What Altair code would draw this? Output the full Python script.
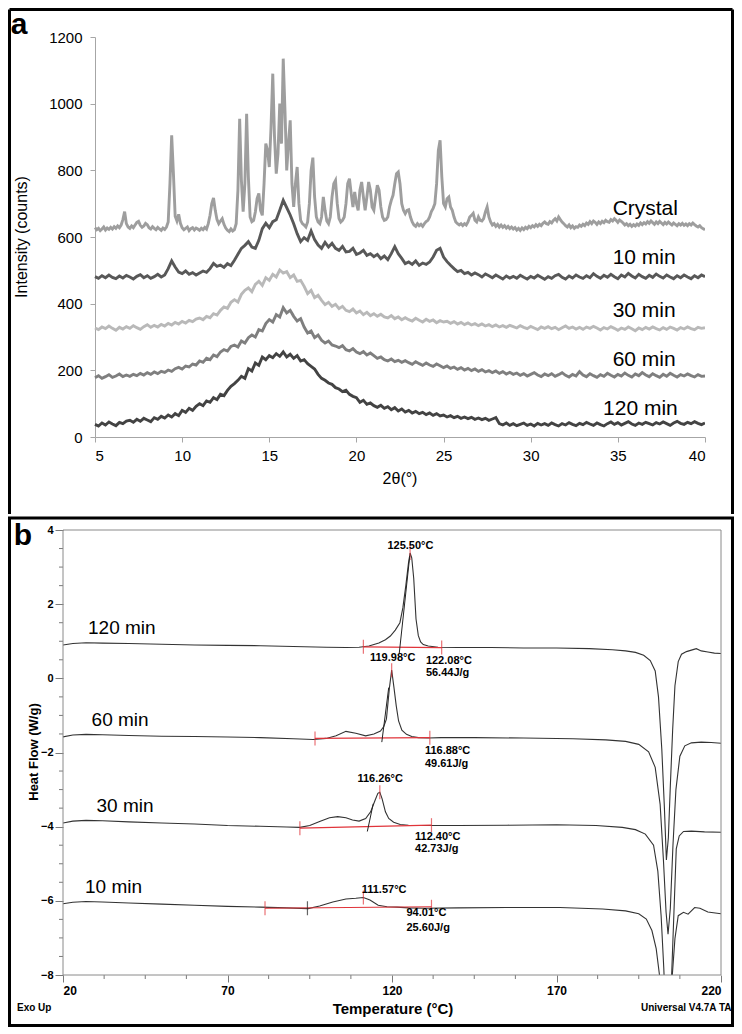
import altair as alt
import numpy as np
import pandas as pd

# ======================= Panel a : XRD patterns =======================
THETA_START = 5.0
CRYSTAL_STEP = 0.1   # degrees between readings (crystal)
AMORPH_STEP = 0.2    # degrees between readings (milled samples)

crystal = [
    628, 622, 626, 619, 624, 630, 621, 627, 623, 629,
    624, 631, 626, 633, 628, 636, 652, 676, 640, 630,
    626, 633, 628, 636, 644, 647, 635, 629, 633, 641,
    637, 628, 624, 631, 626, 622, 629, 624, 620, 627,
    623, 630, 645, 760, 905, 790, 662, 648, 668, 641,
    628, 622, 626, 630, 619, 625, 628, 621, 627, 624,
    620, 626, 622, 629, 624, 640, 665, 700, 717, 680,
    652, 640, 648, 655, 638, 627, 620, 616, 624, 618,
    622, 640, 740, 955, 770, 676, 760, 970, 780, 660,
    646, 650, 675, 715, 731, 680, 665, 760, 880, 860,
    810, 930, 1090, 900, 790, 850, 1000, 880, 1135, 980,
    800, 880, 950, 760, 690, 760, 810, 700, 650, 640,
    636, 630, 645, 700, 800, 838, 720, 660, 645, 640,
    660, 720, 680, 648, 640, 660, 720, 760, 770, 700,
    655, 645, 650, 660, 700, 760, 775, 730, 690, 735,
    700, 680, 740, 765, 720, 680, 720, 765, 740, 690,
    680, 720, 755, 740, 690, 660, 650, 652, 660, 690,
    710, 725, 760, 790, 795, 760, 700, 680, 670, 680,
    682, 660, 645, 636, 632, 640, 634, 638, 632, 640,
    646, 650, 660, 676, 686, 700, 760, 860, 890, 780,
    700, 690, 715, 720, 690, 680, 660, 645, 640, 636,
    640, 634, 640, 636, 645, 660, 665, 671, 650, 645,
    660, 650, 648, 655, 675, 690, 660, 645, 636, 640,
    632, 638, 630, 636, 629, 634, 627, 632, 625, 630,
    624, 628, 621, 626, 620, 627, 622, 629, 625, 632,
    628, 634, 630, 637, 632, 638, 634, 641, 645, 640,
    638, 646, 642, 650, 655, 648, 660, 652, 645, 640,
    634, 630, 636, 628, 633, 626, 631, 629, 636, 632,
    638, 634, 642, 638, 646, 640, 648, 644, 638, 645,
    640, 647, 643, 650, 646, 644, 652, 648, 655, 650,
    644, 651, 647, 642, 636, 640, 634, 638, 632, 637,
    633, 639, 635, 642, 637, 643, 639, 646, 641, 648,
    643, 638, 645, 640, 647, 642, 637, 644, 639, 645,
    640, 636, 642, 638, 634, 640, 636, 641, 635, 639,
    634, 640, 636, 642, 637, 633, 630, 634, 628, 625,
    622,
]

min10 = [
    481, 476, 484, 478, 486, 479, 475, 483, 477, 485,
    480, 474, 482, 487, 478, 484, 476, 481, 488, 480,
    486, 505, 528, 510, 495, 490, 498, 488, 493, 486,
    492, 498, 494, 505, 521, 512, 516, 509, 520, 514,
    530, 548, 566, 575, 586, 570, 566, 590, 625, 641,
    628, 646, 652, 680, 710, 688, 666, 640, 610, 586,
    598, 590, 618, 592, 576, 566, 584, 570, 581, 566,
    560, 572, 555, 557, 566, 548, 552, 560, 545, 550,
    541, 548, 535, 543, 532, 550, 571, 550, 536, 520,
    525, 518, 528, 515, 522, 518, 525, 540, 560, 566,
    540, 526, 515, 505, 496, 500, 490, 494, 486, 492,
    487, 480, 489, 484, 478, 486, 480, 474, 483, 477,
    482, 476, 485, 479, 474, 482, 477, 485, 479, 473,
    481, 476, 484, 488, 479, 474, 483, 477, 486, 480,
    476, 484, 478, 490, 482, 476, 485, 479, 488, 481,
    475, 486, 480, 491, 483, 477, 488, 481, 476, 485,
    479, 489, 482, 477, 486, 480, 475, 484, 478, 486,
    480, 475, 484, 478, 486, 481,
]

min30 = [
    327, 322, 330, 325, 333, 326, 320, 329, 324, 331,
    326, 334, 328, 323, 331, 337, 329, 335, 330, 338,
    333, 341, 336, 344, 339, 347, 342, 350, 346, 354,
    357, 352, 362, 358, 370, 366, 380, 390, 386, 404,
    412, 405, 428, 440, 447, 436, 458, 467, 455, 478,
    470, 488, 480, 501, 492, 496, 478, 486, 467, 470,
    452, 430, 440, 418, 425, 410, 397, 404, 392, 398,
    385, 392, 380, 376, 384, 372, 378, 367, 374, 364,
    370, 362, 368, 360, 357, 364, 355, 360, 352, 358,
    352, 348, 356, 350, 345, 353, 347, 351, 343, 349,
    345, 347, 341, 346, 339, 344, 337, 342, 336, 340,
    334, 339, 333, 337, 331, 336, 330, 334, 329, 335,
    331, 327, 334, 329, 325, 332, 327, 322, 330, 326,
    331, 325, 329, 322, 328, 333, 326, 330, 324, 329,
    323, 330, 326, 332, 327, 321, 328, 324, 331, 326,
    320, 327, 323, 330, 325, 319, 327, 322, 329, 324,
    330, 325, 321, 328, 323, 330, 326, 321, 328, 324,
    330, 325, 322, 329, 326, 328,
]

min60 = [
    178, 184, 176, 181, 187, 179, 183, 189, 181, 186,
    182, 188, 184, 191, 186, 193, 188, 195, 190, 197,
    194, 201, 197, 205, 209, 204, 213, 210, 219, 216,
    228, 224, 236, 232, 246, 241, 255, 262, 258, 272,
    276, 270, 288, 282, 298, 306, 300, 322, 318, 340,
    352, 345, 367, 360, 388, 372, 380, 362, 348, 355,
    330, 312, 318, 298, 306, 290, 282, 288, 276, 273,
    268, 274, 262, 258, 265, 255, 250, 256, 246, 252,
    244, 236, 240, 232, 228, 234, 226, 230, 224, 229,
    223, 218, 226, 220, 215, 222, 216, 212, 219, 214,
    208, 213, 206, 210, 203, 208, 201, 206, 199, 204,
    197, 202, 195, 199, 193, 198, 191, 196, 189, 194,
    188, 192, 185, 190, 183, 188, 193, 186, 181, 189,
    184, 190, 182, 187, 193, 185, 180, 188, 183, 196,
    186, 181, 190, 184, 179, 187, 182, 191, 185, 180,
    188, 183, 192, 185, 180, 189, 184, 193, 186, 181,
    190, 184, 179, 188, 182, 191, 185, 180, 187, 183,
    189, 184, 180, 187, 182, 183,
]

min120 = [
    38, 33, 42, 36, 45, 39, 34, 44, 40, 48,
    50, 44, 53, 47, 56, 51, 46, 58, 53, 62,
    57, 66, 60, 70, 64, 80, 74, 86, 80, 92,
    100, 94, 108, 104, 118, 112, 128, 124, 140, 152,
    160, 170, 182, 176, 205, 198, 222, 215, 240, 232,
    244, 238, 250, 242, 255, 240, 248, 236, 244, 228,
    232, 220, 212, 204, 188, 176, 170, 162, 158, 148,
    144, 136, 140, 128, 122, 118, 104, 110, 98, 102,
    94, 89, 95, 86, 91, 82, 88, 78, 84, 75,
    80, 72, 77, 70, 74, 67, 72, 65, 70, 63,
    66, 60, 64, 58, 62, 56, 60, 55, 59, 53,
    57, 52, 56, 50, 54, 58, 40, 36, 42, 35,
    40, 34, 38, 42, 35, 39, 33, 41, 36, 40,
    35, 42, 37, 33, 40, 36, 43, 38, 34, 41,
    37, 44, 39, 35, 42, 37, 33, 40, 45, 38,
    43, 36, 41, 46, 39, 35, 42, 38, 44, 40,
    36, 43, 39, 45, 40, 35, 42, 47, 41, 38,
    44, 40, 46, 41, 37, 42,
]

xrd_series = ["Crystal", "10 min", "30 min", "60 min", "120 min"]
xrd_colors = ["#9e9e9e", "#585858", "#b9b9b9", "#7f7f7f", "#434343"]
xrd_label_x = [34.7, 34.7, 34.7, 34.7, 34.15]
xrd_label_y = [683, 536, 378, 232, 83]
theta_ticks = [5, 10, 15, 20, 25, 30, 35, 40]
intensity_ticks = [0, 200, 400, 600, 800, 1000, 1200]

# ======================= Panel b : DSC thermograms =======================
dsc_curves = ["120 min", "60 min", "30 min", "10 min"]

t120 = [20, 23, 27, 32, 40, 50, 60, 70, 80, 90, 100, 106, 110, 113, 116,
        118, 119.5, 121, 122.4, 123.3, 124.2, 125, 125.5, 126, 126.6,
        127.3, 128, 128.7, 129.5, 131, 134, 140, 150, 160, 170,
        180, 187, 191, 194, 196.5, 198.5, 200, 201, 202, 202.8,
        203.4, 204, 204.6, 205.3, 206, 207, 208, 209.5, 211, 212.5,
        214, 216, 218, 220]
h120 = [0.90, 0.94, 0.96, 0.95, 0.94, 0.92, 0.90, 0.89, 0.88, 0.86, 0.84, 0.83, 0.84, 0.87, 0.95,
        1.04, 1.14, 1.30, 1.50, 1.90, 2.50, 3.10, 3.38, 3.25, 2.70,
        1.60, 1.15, 0.98, 0.91, 0.87, 0.84, 0.83, 0.83, 0.82, 0.82,
        0.80, 0.77, 0.74, 0.70, 0.62, 0.48, 0.20, -0.50, -1.90, -3.50,
        -4.90, -4.30, -2.90, -1.40, -0.20, 0.45, 0.65, 0.72, 0.76, 0.80,
        0.74, 0.71, 0.68, 0.67]

t60 = [20, 23, 27, 32, 40, 50, 60, 70, 80, 90, 96, 100, 103, 106, 109,
       112, 114.5, 116.5, 117.5, 118.3, 119.2, 119.9, 120.6, 121.3, 122,
       123, 124.4, 126, 128, 131, 135, 145, 160, 175, 185,
       191, 195, 198, 200, 201.5, 202.5, 203.3, 203.9, 204.6, 205.4,
       206.3, 207.5, 209, 211, 214, 217, 220]
h60 = [-1.58, -1.53, -1.51, -1.52, -1.54, -1.56, -1.57, -1.58, -1.60, -1.63, -1.65, -1.62, -1.55, -1.43, -1.48,
       -1.55, -1.50, -1.42, -1.30, -1.10, -0.27, 0.22, -0.25, -0.75, -1.15,
       -1.40, -1.51, -1.57, -1.60, -1.61, -1.60, -1.60, -1.61, -1.63, -1.66,
       -1.70, -1.78, -1.98, -2.40, -3.40, -4.90, -6.30, -6.90, -6.20, -4.50,
       -3.00, -2.10, -1.82, -1.74, -1.72, -1.73, -1.75]

t30 = [20, 23, 27, 32, 40, 50, 60, 70, 80, 88, 92, 95, 98, 101, 103.5,
       106, 108, 110, 112, 113.5, 114.8, 115.7, 116.3, 117, 118,
       119, 120.5, 122.5, 125, 128, 132, 140, 155, 170, 182,
       190, 194, 197, 199.5, 200.8, 201.8, 202.6, 203.4, 204.3, 205,
       205.7, 206.4, 207.3, 208.6, 211, 215, 220]
h30 = [-3.90, -3.85, -3.83, -3.84, -3.87, -3.90, -3.93, -3.97, -3.99, -4.01, -4.02, -3.97, -3.86, -3.76, -3.73,
       -3.76, -3.82, -3.85, -3.78, -3.60, -3.30, -3.10, -3.07, -3.25, -3.60,
       -3.78, -3.88, -3.94, -3.96, -3.97, -3.97, -3.97, -3.96, -3.95, -3.97,
       -4.02, -4.08, -4.20, -4.50, -5.20, -6.40, -7.80, -9.50, -9.20, -8.00,
       -6.30, -4.60, -4.25, -4.13, -4.12, -4.14, -4.15]

t10 = [20, 23, 27, 32, 40, 50, 60, 70, 80, 88, 94.5, 98, 102, 106, 109,
       111.3, 113.3, 115.8, 118.5, 121.5, 125, 130, 140, 155, 171,
       184, 191, 195, 197.3, 199, 200.3, 201.3, 202.2, 203.3, 204.3,
       205.2, 206, 207, 208.6, 210, 212, 213.6, 216, 220]
h10 = [-6.08, -6.04, -6.02, -6.03, -6.06, -6.09, -6.12, -6.15, -6.17, -6.19, -6.21, -6.14, -6.03, -5.95, -5.93,
       -5.91, -5.98, -6.12, -6.16, -6.17, -6.19, -6.20, -6.19, -6.18, -6.18,
       -6.22, -6.27, -6.35, -6.49, -6.80, -7.29, -8.00, -9.20, -10.0, -9.60,
       -8.00, -7.02, -6.40, -6.31, -6.36, -6.18, -6.20, -6.30, -6.35]

dsc_label_t = [27.6, 28.7, 30.2, 26.7]
dsc_label_h = [1.35, -1.12, -3.44, -5.63]

# integration baselines (red)
base_t1 = [111.3, 96.6, 92.0, 81.4]
base_t2 = [135.1, 131.5, 132.0, 132.0]
base_h1 = [0.85, -1.62, -4.04, -6.20]
base_h2 = [0.83, -1.60, -3.96, -6.16]
peak_t = [125.5, 119.9, 116.3, 111.3]
peak_h = [3.38, 0.22, -3.07, -5.91]
# onset tangents (black)
tan_t1 = [122.2, 116.9, 112.5]
tan_h1 = [0.67, -1.72, -4.13]
tan_t2 = [125.4, 119.0, 114.3]
tan_h2 = [3.30, -0.25, -3.38]
onset_mark_t = [94.3]
onset_mark_h = [-6.20]

ann_center_text = ["125.50°C", "119.98°C", "116.26°C"]
ann_center_t = [125.6, 120.2, 116.4]
ann_center_h = [3.57, 0.55, -2.72]
ann_left_text = ["122.08°C", "56.44J/g", "116.88°C", "49.61J/g", "112.40°C",
                 "42.73J/g", "111.57°C", "94.01°C", "25.60J/g"]
ann_left_t = [130.3, 130.3, 130.0, 130.0, 127.0, 127.0, 110.8, 124.4, 124.4]
ann_left_h = [0.46, 0.15, -1.96, -2.31, -4.29, -4.60, -5.71, -6.32, -6.72]

temp_ticks = [20, 70, 120, 170, 220]
temp_minor = [32.5, 45, 57.5, 82.5, 95, 107.5, 132.5, 145, 157.5, 182.5, 195, 207.5]
hf_ticks = [-8, -6, -4, -2, 0, 2, 4]
hf_minor = [-7.5, -7, -6.5, -5.5, -5, -4.5, -3.5, -3, -2.5, -1.5, -1, -0.5,
            0.5, 1, 1.5, 2.5, 3, 3.5]

# ======================= build tables =======================
rows = []
for name, vals, step in [("Crystal", crystal, CRYSTAL_STEP), ("10 min", min10, AMORPH_STEP),
                         ("30 min", min30, AMORPH_STEP), ("60 min", min60, AMORPH_STEP),
                         ("120 min", min120, AMORPH_STEP)]:
    xs = np.round(THETA_START + step * np.arange(len(vals)), 2)
    rows.append(pd.DataFrame({"theta": xs, "counts": vals, "sample": name}))
xrd_df = pd.concat(rows, ignore_index=True)
xrd_lab = pd.DataFrame({"theta": xrd_label_x, "counts": xrd_label_y, "label": xrd_series})

dsc_df = pd.concat([
    pd.DataFrame({"T": t, "HF": h, "curve": c})
    for c, t, h in zip(dsc_curves, [t120, t60, t30, t10], [h120, h60, h30, h10])
], ignore_index=True)
dsc_lab = pd.DataFrame({"T": dsc_label_t, "HF": dsc_label_h, "label": dsc_curves})
base_df = pd.DataFrame({"T": base_t1, "T2": base_t2, "HF": base_h1, "HF2": base_h2})
endtick_df = pd.DataFrame({"T": base_t1 + base_t2 + peak_t, "HF": base_h1 + base_h2 + peak_h})
tan_df = pd.DataFrame({"T": tan_t1, "T2": tan_t2, "HF": tan_h1, "HF2": tan_h2})
onset_df = pd.DataFrame({"T": onset_mark_t, "HF": onset_mark_h})
annc_df = pd.DataFrame({"T": ann_center_t, "HF": ann_center_h, "txt": ann_center_text})
annl_df = pd.DataFrame({"T": ann_left_t, "HF": ann_left_h, "txt": ann_left_text})
tminor_df = pd.DataFrame({"T": temp_minor})
hminor_df = pd.DataFrame({"HF": hf_minor})
one = pd.DataFrame({"k": [0]})

FONT = "Liberation Sans, Arial, sans-serif"
NARROW = "Liberation Sans Narrow, Liberation Sans, Arial, sans-serif"
AX_GREY = "#a6a6a6"
RED = "#e0343a"

# Both panels share the same group origin (page x = 63); panel a's plot is inset by SHIFT.
SHIFT = 32
# ======================= panel a chart =======================
PA_W, PA_H = 642, 400


def xa(field):
    return alt.X(f"{field}:Q", scale=alt.Scale(domain=[5, 40], nice=False, zero=False,
                                               range=[SHIFT, PA_W]),
                 axis=alt.Axis(values=theta_ticks, title=None, grid=False, domainColor=AX_GREY,
                               tickColor=AX_GREY, tickSize=5, labelPadding=6, labelFontSize=15,
                               labelFont=FONT, labelColor="black", format="d"))


def ya(field):
    return alt.Y(f"{field}:Q", scale=alt.Scale(domain=[0, 1200], nice=False, zero=False),
                 axis=alt.Axis(values=intensity_ticks, title=None, grid=False, domainColor=AX_GREY,
                               tickColor=AX_GREY, tickSize=5, labelPadding=8, labelFontSize=15,
                               labelFont=FONT, labelColor="black", format="d", offset=-SHIFT))


xrd_lines = alt.Chart(xrd_df).mark_line(strokeWidth=2.9, clip=True).encode(
    x=xa("theta"), y=ya("counts"),
    color=alt.Color("sample:N", scale=alt.Scale(domain=xrd_series, range=xrd_colors), legend=None),
)
xrd_text = alt.Chart(xrd_lab).mark_text(align="left", baseline="middle", fontSize=21,
                                        font=FONT, color="black").encode(
    x=xa("theta"), y=ya("counts"), text="label:N")

a_left = alt.Chart(one).mark_rule(color="black", strokeWidth=3).encode(
    x=alt.value(-53.5), y=alt.value(-27.5), y2=alt.value(477))
a_right = alt.Chart(one).mark_rule(color="black", strokeWidth=3).encode(
    x=alt.value(669.5), y=alt.value(-27.5), y2=alt.value(477))
a_top = alt.Chart(one).mark_rule(color="black", strokeWidth=3).encode(
    x=alt.value(-53.5), x2=alt.value(669.5), y=alt.value(-27.5))
a_tag = alt.Chart(one).mark_text(text="a", fontSize=30, fontWeight="bold", font=FONT,
                                 color="black").encode(x=alt.value(-44), y=alt.value(-12))
a_ytitle = alt.Chart(one).mark_text(text="Intensity (counts)", angle=270, fontSize=16, font=FONT,
                                    color="black").encode(x=alt.value(-41), y=alt.value(200))
a_xtitle = alt.Chart(one).mark_text(text="2θ(°)", fontSize=16, font=FONT,
                                    color="black").encode(x=alt.value(337), y=alt.value(442))

panel_a = alt.layer(xrd_lines, xrd_text, a_left, a_right, a_top, a_tag, a_ytitle,
                    a_xtitle).properties(width=PA_W, height=PA_H)

# ======================= panel b chart =======================
PB_W, PB_H = 658, 445


def xb(field):
    return alt.X(f"{field}:Q", scale=alt.Scale(domain=[20, 220], nice=False, zero=False),
                 axis=alt.Axis(values=temp_ticks, title=None, grid=False, domain=False,
                               tickColor="#7a7a7a", tickSize=7, labelPadding=3, labelFontSize=12,
                               labelFont=FONT, labelFontWeight="bold", labelColor="black"))


def yb(field):
    return alt.Y(f"{field}:Q", scale=alt.Scale(domain=[-8, 4], nice=False, zero=False),
                 axis=alt.Axis(values=hf_ticks, title=None, grid=False, domain=False,
                               tickColor="#7a7a7a", tickSize=8, labelPadding=2, labelFontSize=11,
                               labelFont=FONT, labelFontWeight="bold", labelColor="black"))


dsc_lines = alt.Chart(dsc_df).mark_line(strokeWidth=1.1, color="#333333", clip=True).encode(
    x=xb("T"), y=yb("HF"), detail="curve:N")
dsc_text = alt.Chart(dsc_lab).mark_text(align="left", baseline="middle", fontSize=19,
                                        font=FONT, color="black").encode(
    x=xb("T"), y=yb("HF"), text="label:N")
base_rules = alt.Chart(base_df).mark_rule(color=RED, strokeWidth=1.2).encode(
    x=xb("T"), x2="T2:Q", y=yb("HF"), y2="HF2:Q")
end_ticks = alt.Chart(endtick_df).mark_tick(orient="vertical", size=14, thickness=1.2,
                                            color=RED).encode(x=xb("T"), y=yb("HF"))
tan_rules = alt.Chart(tan_df).mark_rule(color="#222222", strokeWidth=1).encode(
    x=xb("T"), x2="T2:Q", y=yb("HF"), y2="HF2:Q")
onset_tick = alt.Chart(onset_df).mark_tick(orient="vertical", size=14, thickness=1.2,
                                           color="#222222").encode(x=xb("T"), y=yb("HF"))
ann_c = alt.Chart(annc_df).mark_text(align="center", baseline="middle", fontSize=11,
                                     fontWeight="bold", font=FONT, color="black").encode(
    x=xb("T"), y=yb("HF"), text="txt:N")
ann_l = alt.Chart(annl_df).mark_text(align="left", baseline="middle", fontSize=11,
                                     fontWeight="bold", font=FONT, color="black").encode(
    x=xb("T"), y=yb("HF"), text="txt:N")
t_minor = alt.Chart(tminor_df).mark_rule(color="#7a7a7a").encode(
    x=xb("T"), y=alt.value(PB_H), y2=alt.value(PB_H + 4))
h_minor = alt.Chart(hminor_df).mark_rule(color="#7a7a7a").encode(
    y=yb("HF"), x=alt.value(-4), x2=alt.value(0))
frame_b = alt.Chart(one).mark_rect(fillOpacity=0, stroke="#8a8a8a", strokeWidth=1).encode(
    x=alt.value(0), x2=alt.value(PB_W), y=alt.value(0), y2=alt.value(PB_H))
border_b = alt.Chart(one).mark_rect(fillOpacity=0, stroke="black", strokeWidth=3).encode(
    x=alt.value(-53.5), x2=alt.value(669.5), y=alt.value(-12), y2=alt.value(495.5))
b_tag = alt.Chart(one).mark_text(text="b", fontSize=30, fontWeight="bold", font=FONT,
                                 color="black").encode(x=alt.value(-40), y=alt.value(6))
b_ytitle = alt.Chart(one).mark_text(text="Heat Flow (W/g)", angle=270, fontSize=13,
                                    fontWeight="bold", font=FONT, color="black").encode(
    x=alt.value(-29), y=alt.value(222))
b_xtitle = alt.Chart(one).mark_text(text="Temperature (°C)", fontSize=15, fontWeight="bold",
                                    font=NARROW, color="black").encode(
    x=alt.value(330), y=alt.value(479))
b_exo = alt.Chart(one).mark_text(text="Exo Up", align="left", fontSize=10, fontWeight="bold",
                                 font=NARROW, color="black").encode(
    x=alt.value(-46), y=alt.value(478))
b_univ = alt.Chart(one).mark_text(text="Universal V4.7A TA", align="left", fontSize=10,
                                  fontWeight="bold", font=NARROW, color="black").encode(
    x=alt.value(578), y=alt.value(478))

panel_b = alt.layer(dsc_lines, base_rules, end_ticks, tan_rules, onset_tick, dsc_text, ann_c,
                    ann_l, t_minor, h_minor, frame_b, border_b, b_tag, b_ytitle, b_xtitle,
                    b_exo, b_univ).properties(width=PB_W, height=PB_H)

chart = alt.vconcat(panel_a, panel_b, spacing=0).properties(
    padding=0, background="white").configure_view(stroke=None)

chart.save("out.html", embed_options={"renderer": "svg", "actions": False})
